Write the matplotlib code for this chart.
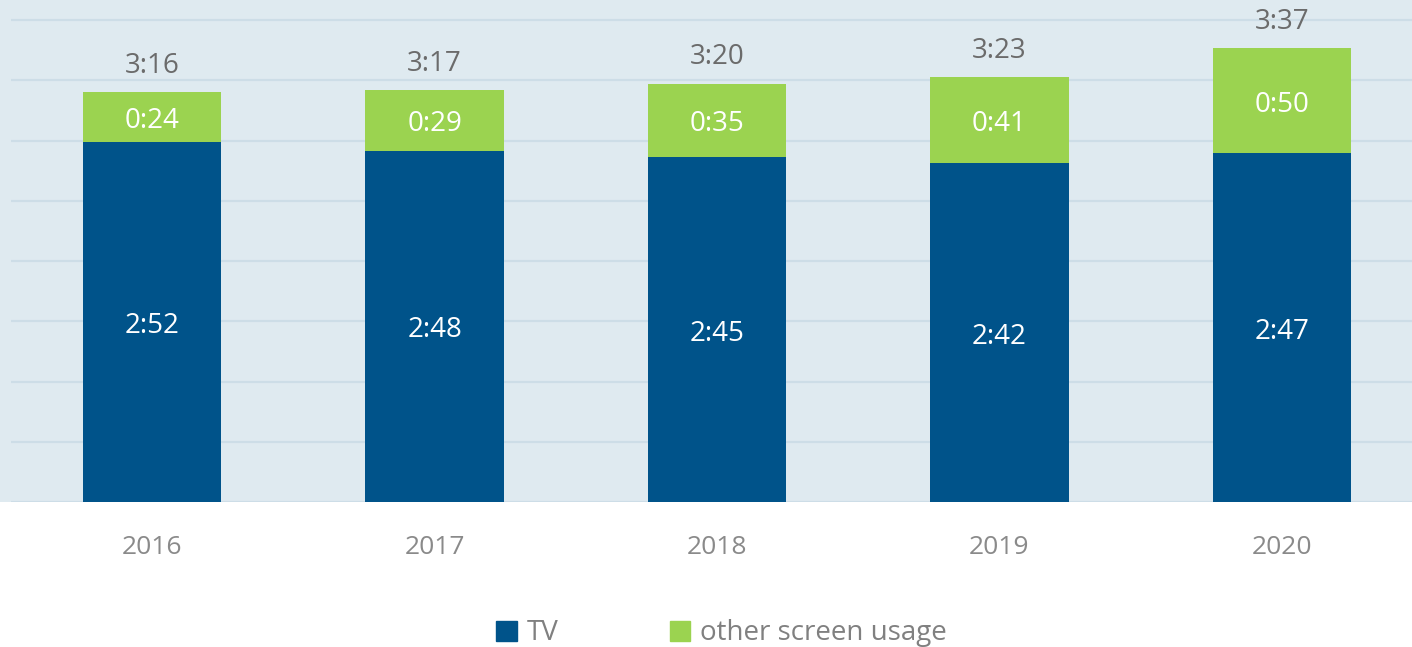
import matplotlib.pyplot as plt
from matplotlib.patches import Patch, Rectangle

years = ['2016', '2017', '2018', '2019', '2020']
tv_min = [172, 168, 165, 162, 167]
other_min = [24, 29, 35, 41, 50]

BLUE = '#00538a'
GREEN = '#9bd350'
BG = '#dfeaf0'
GRID = '#cddde7'


def fmt(m):
    return f"{m // 60}:{m % 60:02d}"


plt.rcParams['font.family'] = ['Open Sans', 'DejaVu Sans']

fig = plt.figure(figsize=(14.12, 6.47), dpi=100)
bottom = (647 - 502) / 647
fig.patches.append(Rectangle((0, bottom), 1, 1 - bottom, transform=fig.transFigure,
                             facecolor=BG, edgecolor='none', zorder=-5))
ax = fig.add_axes([11 / 1412, bottom, 1.0, 1 - bottom])
ax.set_facecolor('none')

x = list(range(len(years)))
totals = [a + b for a, b in zip(tv_min, other_min)]
ax.bar(x, tv_min, width=0.49, color=BLUE, zorder=2)
ax.bar(x, other_min, width=0.49, bottom=tv_min, color=GREEN, zorder=2)

for i in x:
    ax.annotate(fmt(tv_min[i]), (i, tv_min[i] / 2), xytext=(0, -3),
                textcoords='offset points', ha='center', va='center',
                color='white', fontsize=20)
    ax.annotate(fmt(other_min[i]), (i, tv_min[i] + other_min[i] / 2), xytext=(0, -3),
                textcoords='offset points', ha='center', va='center',
                color='white', fontsize=20)
    ax.annotate(fmt(totals[i]), (i, totals[i]), xytext=(0, 19),
                textcoords='offset points', ha='center', va='center',
                color='#6b6b6b', fontsize=20)

for k in range(0, 9):
    ax.axhline(k * 28.8, color=GRID, lw=1.6, zorder=1)

ax.set_xlim(-0.5, 4.5)
ax.set_ylim(0, 240)
ax.set_yticks([])
ax.set_xticks(x)
ax.set_xticklabels(years, color='#8a8a8a', fontsize=19)
ax.tick_params(axis='x', length=0, pad=24)
for s in ax.spines.values():
    s.set_visible(False)

handles = [Patch(color=BLUE, label='TV'), Patch(color=GREEN, label='other screen usage')]
fig.legend(handles=handles, loc='center', bbox_to_anchor=(0.511, 0.021), ncol=2,
           frameon=False, handlelength=0.75, handleheight=0.75, handletextpad=0.35,
           columnspacing=4.0, fontsize=20, labelcolor='#808080')

fig.savefig('out.png', dpi=100)
